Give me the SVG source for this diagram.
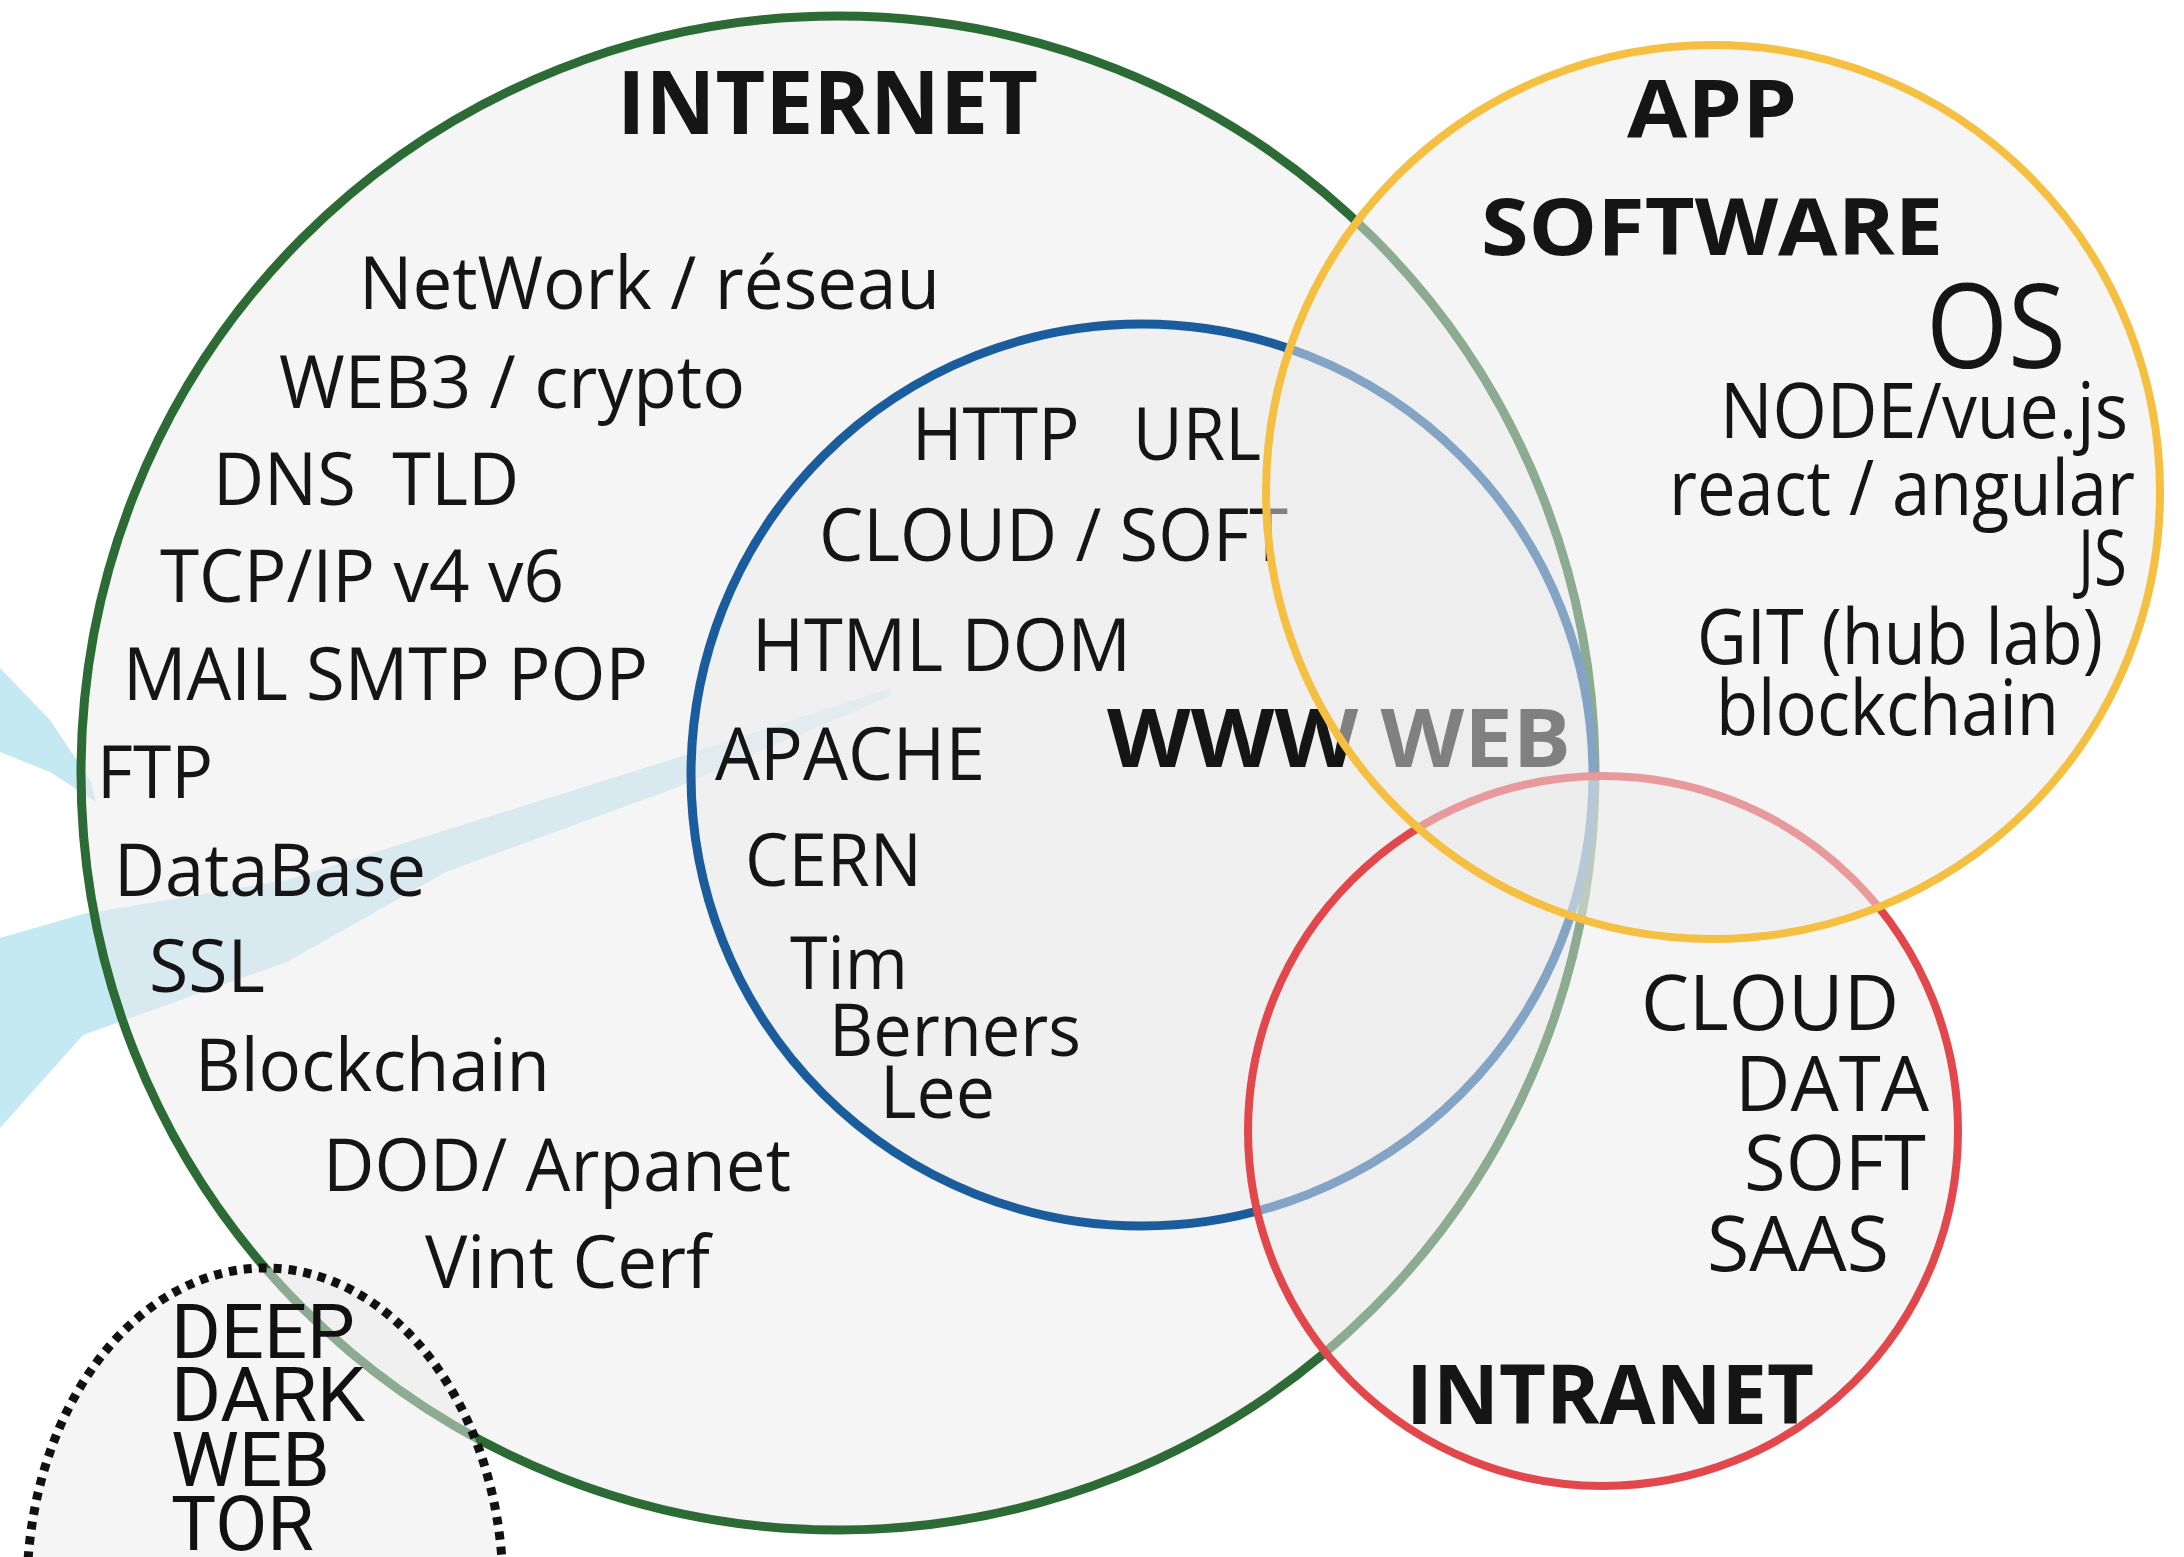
<svg xmlns="http://www.w3.org/2000/svg" width="2184" height="1557" viewBox="0 0 2184 1557">
<style>
  text { font-family: "Open Sans", "Noto Sans", "Liberation Sans", sans-serif; fill: #151515; }
  .t { font-size: 73px; }
  .s { font-size: 76px; }
  .r { font-size: 76px; }
  .b { font-weight: 700; }
  .dw { font-family: Roboto, "Liberation Sans", sans-serif; font-size: 76px; fill: #111; }
  .area { fill: #ececec; fill-opacity: 0.5; }
  .beam { fill: #c4e9f3; }
</style>
<rect width="2184" height="1557" fill="#ffffff"/>

<g id="beams">
  <polygon class="beam" points="0,938 83,914 287,880 446,830 670,760 890,688 890,696 670,790 446,872 287,962 83,1035 0,1128"/>
  <polygon class="beam" points="0,668 50,720 90,780 96,802 50,772 0,752"/>
</g>

<g id="internet">
  <circle class="area" cx="838" cy="773" r="757" stroke="#2c6b35" stroke-width="9"/>
  <text x="617" y="134" class="b" font-size="88" textLength="421" lengthAdjust="spacingAndGlyphs">INTERNET</text>
  <text x="359" y="309" class="t" textLength="581" lengthAdjust="spacingAndGlyphs">NetWork / réseau</text>
  <text x="279" y="408" class="t" textLength="466" lengthAdjust="spacingAndGlyphs">WEB3 / crypto</text>
  <text x="213" y="505" class="t" xml:space="preserve" textLength="306" lengthAdjust="spacingAndGlyphs">DNS  TLD</text>
  <text x="160" y="602" class="t" textLength="404" lengthAdjust="spacingAndGlyphs">TCP/IP v4 v6</text>
  <text x="123" y="700" class="t" textLength="525" lengthAdjust="spacingAndGlyphs">MAIL SMTP POP</text>
  <text x="97" y="798" class="t" textLength="116" lengthAdjust="spacingAndGlyphs">FTP</text>
  <text x="114" y="896" class="t" textLength="312" lengthAdjust="spacingAndGlyphs">DataBase</text>
  <text x="149" y="992" class="t" textLength="116" lengthAdjust="spacingAndGlyphs">SSL</text>
  <text x="195" y="1091" class="t" textLength="355" lengthAdjust="spacingAndGlyphs">Blockchain</text>
  <text x="323" y="1191" class="t" textLength="468" lengthAdjust="spacingAndGlyphs">DOD/ Arpanet</text>
  <text x="425" y="1288" class="t" textLength="285" lengthAdjust="spacingAndGlyphs">Vint Cerf</text>
</g>

<g id="www">
  <circle class="area" cx="1142" cy="775" r="451" stroke="#1b5d9c" stroke-width="9"/>
  <text x="912" y="460" class="t" xml:space="preserve" textLength="349" lengthAdjust="spacingAndGlyphs">HTTP   URL</text>
  <text x="819" y="561" class="t" textLength="469" lengthAdjust="spacingAndGlyphs">CLOUD / SOFT</text>
  <text x="752" y="671" class="t" textLength="379" lengthAdjust="spacingAndGlyphs">HTML DOM</text>
  <text x="715" y="780" class="t" textLength="270" lengthAdjust="spacingAndGlyphs">APACHE</text>
  <text x="745" y="886" class="t" textLength="177" lengthAdjust="spacingAndGlyphs">CERN</text>
  <text x="790" y="989" class="t" textLength="118" lengthAdjust="spacingAndGlyphs">Tim</text>
  <text x="829" y="1056" class="t" textLength="252" lengthAdjust="spacingAndGlyphs">Berners</text>
  <text x="880" y="1118" class="t" textLength="115" lengthAdjust="spacingAndGlyphs">Lee</text>
  <text x="1107" y="767" class="b" font-size="80" textLength="464" lengthAdjust="spacingAndGlyphs">WWW WEB</text>
</g>

<g id="darkweb">
  <ellipse class="area" cx="265" cy="1590" rx="238" ry="322" stroke="#111" stroke-width="9" stroke-dasharray="8 7"/>
  <text x="171" y="1358" class="dw" textLength="184" lengthAdjust="spacingAndGlyphs">DEEP</text>
  <text x="171" y="1421" class="dw" textLength="194" lengthAdjust="spacingAndGlyphs">DARK</text>
  <text x="171" y="1486" class="dw" textLength="159" lengthAdjust="spacingAndGlyphs">WEB</text>
  <text x="171" y="1550" class="dw" textLength="143" lengthAdjust="spacingAndGlyphs">TOR</text>
</g>

<g id="intranet">
  <circle class="area" cx="1603" cy="1131" r="355" stroke="#e2474b" stroke-width="8"/>
  <text x="1641" y="1030" class="r" textLength="258" lengthAdjust="spacingAndGlyphs">CLOUD</text>
  <text x="1735" y="1111" class="r" textLength="194" lengthAdjust="spacingAndGlyphs">DATA</text>
  <text x="1744" y="1190" class="r" textLength="182" lengthAdjust="spacingAndGlyphs">SOFT</text>
  <text x="1707" y="1271" class="r" textLength="182" lengthAdjust="spacingAndGlyphs">SAAS</text>
  <text x="1406" y="1424" class="b" font-size="82" textLength="408" lengthAdjust="spacingAndGlyphs">INTRANET</text>
</g>

<g id="app">
  <circle class="area" cx="1713" cy="492" r="447" stroke="#f5bf42" stroke-width="8"/>
  <text x="1627" y="138" class="b" font-size="80" textLength="170" lengthAdjust="spacingAndGlyphs">APP</text>
  <text x="1481" y="255" class="b" font-size="78" textLength="462" lengthAdjust="spacingAndGlyphs">SOFTWARE</text>
  <text x="1926" y="368" font-size="118" textLength="140" lengthAdjust="spacingAndGlyphs">OS</text>
  <text x="1720" y="438" class="s" textLength="408" lengthAdjust="spacingAndGlyphs">NODE/vue.js</text>
  <text x="1669" y="515" class="s" textLength="466" lengthAdjust="spacingAndGlyphs">react / angular</text>
  <text x="2078" y="585" class="s" textLength="49" lengthAdjust="spacingAndGlyphs">JS</text>
  <text x="1697" y="664" class="s" textLength="406" lengthAdjust="spacingAndGlyphs">GIT (hub lab)</text>
  <text x="1716" y="735" class="s" textLength="343" lengthAdjust="spacingAndGlyphs">blockchain</text>
</g>
</svg>
